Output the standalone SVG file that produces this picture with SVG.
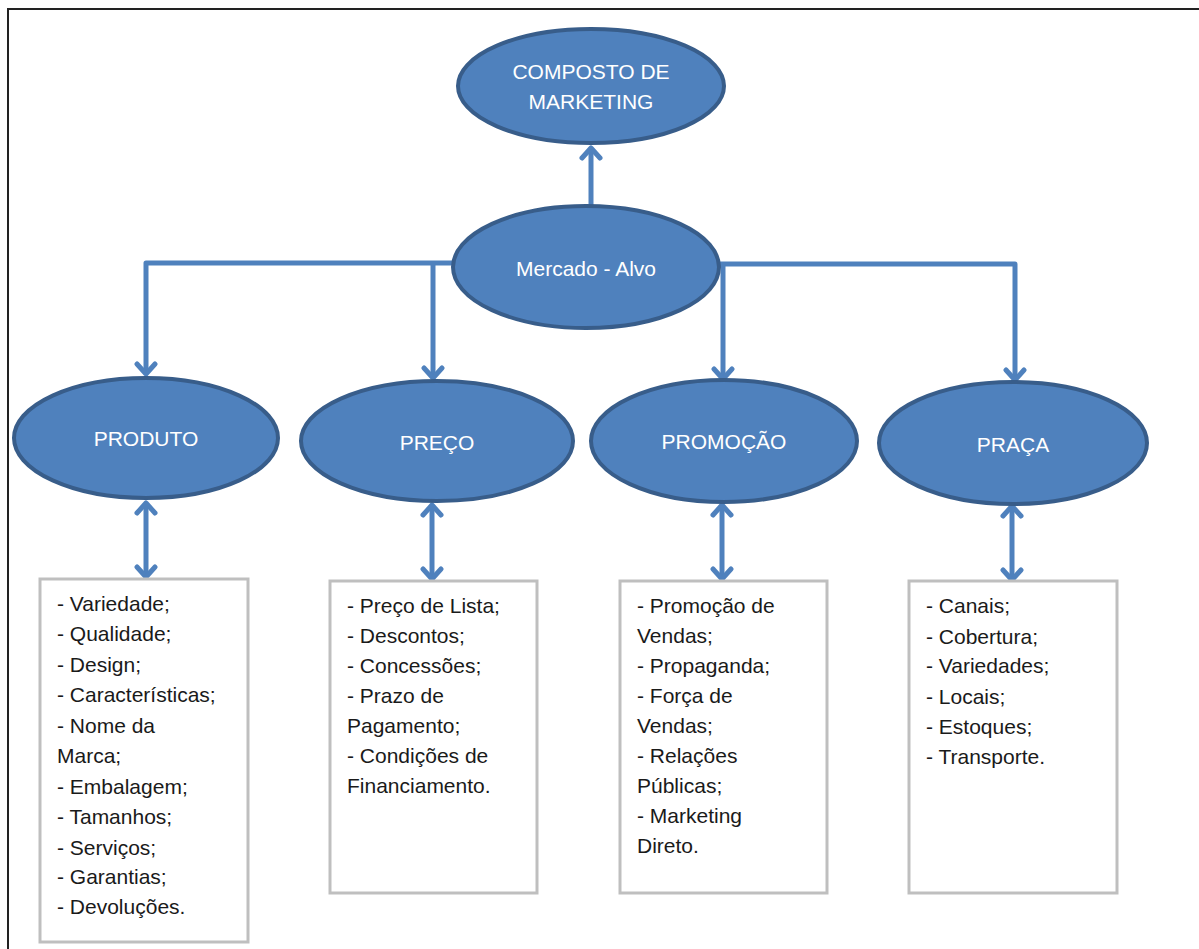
<svg xmlns="http://www.w3.org/2000/svg" width="1199" height="949" viewBox="0 0 1199 949">
<style>
.node ellipse{fill:#4F81BD;stroke:#385D8A;stroke-width:4}
.lbl{font-family:"Liberation Sans",Arial,sans-serif;font-size:21px;fill:#ffffff;text-anchor:middle}
.box rect{fill:#ffffff;stroke:#BFBFBF;stroke-width:3}
.txt{font-family:"Liberation Sans",Arial,sans-serif;font-size:21px;fill:#1a1a1a}
.con{fill:none;stroke:#4F81BD;stroke-width:5;stroke-linejoin:round}
</style>
<defs>
<marker id="arr" viewBox="-14 -12 18 24" markerWidth="18" markerHeight="24" refX="0" refY="0" markerUnits="userSpaceOnUse" orient="auto-start-reverse">
<path d="M-10,-9 L0,0 L-10,9" fill="none" stroke="#4F81BD" stroke-width="5" stroke-linecap="round" stroke-linejoin="round"/>
</marker>
</defs>
<rect width="1199" height="949" fill="#ffffff"/>
<path d="M8,949 V9 H1199" fill="none" stroke="#222" stroke-width="2"/>
<g id="connectors">
<path class="con" d="M591,206 V148" marker-end="url(#arr)"/>
<path class="con" d="M470,263 H146 V374" marker-end="url(#arr)"/>
<path class="con" d="M433,263 V378" marker-end="url(#arr)"/>
<path class="con" d="M700,264 H1015 V380" marker-end="url(#arr)"/>
<path class="con" d="M723,264 V379" marker-end="url(#arr)"/>
<path class="con" d="M146,503 V577" marker-start="url(#arr)" marker-end="url(#arr)"/>
<path class="con" d="M432,505 V579" marker-start="url(#arr)" marker-end="url(#arr)"/>
<path class="con" d="M722,505 V579" marker-start="url(#arr)" marker-end="url(#arr)"/>
<path class="con" d="M1012,506 V580" marker-start="url(#arr)" marker-end="url(#arr)"/>
</g>
<g id="composto" class="node">
<ellipse cx="591" cy="86" rx="133" ry="57"/>
<text class="lbl" x="591" y="79">COMPOSTO DE</text>
<text class="lbl" x="591" y="109">MARKETING</text>
</g>
<g id="mercado" class="node">
<ellipse cx="586" cy="267" rx="133" ry="61"/>
<text class="lbl" x="586" y="276">Mercado - Alvo</text>
</g>
<g id="produto" class="node">
<ellipse cx="146" cy="438" rx="132" ry="60"/>
<text class="lbl" x="146" y="446">PRODUTO</text>
</g>
<g id="preco" class="node">
<ellipse cx="437" cy="441" rx="136" ry="60"/>
<text class="lbl" x="437" y="450">PREÇO</text>
</g>
<g id="promocao" class="node">
<ellipse cx="724" cy="441" rx="133" ry="61"/>
<text class="lbl" x="724" y="449">PROMOÇÃO</text>
</g>
<g id="praca" class="node">
<ellipse cx="1013" cy="443" rx="134" ry="61"/>
<text class="lbl" x="1013" y="452">PRAÇA</text>
</g>
<g id="box-produto" class="box">
<rect x="40" y="579" width="208" height="363"/>
<text class="txt" x="57" y="611">- Variedade;</text>
<text class="txt" x="57" y="641">- Qualidade;</text>
<text class="txt" x="57" y="672">- Design;</text>
<text class="txt" x="57" y="702">- Características;</text>
<text class="txt" x="57" y="733">- Nome da</text>
<text class="txt" x="57" y="763">Marca;</text>
<text class="txt" x="57" y="794">- Embalagem;</text>
<text class="txt" x="57" y="824">- Tamanhos;</text>
<text class="txt" x="57" y="855">- Serviços;</text>
<text class="txt" x="57" y="884">- Garantias;</text>
<text class="txt" x="57" y="914">- Devoluções.</text>
</g>
<g id="box-preco" class="box">
<rect x="330" y="581" width="207" height="312"/>
<text class="txt" x="347" y="613">- Preço de Lista;</text>
<text class="txt" x="347" y="643">- Descontos;</text>
<text class="txt" x="347" y="673">- Concessões;</text>
<text class="txt" x="347" y="703">- Prazo de</text>
<text class="txt" x="347" y="733">Pagamento;</text>
<text class="txt" x="347" y="763">- Condições de</text>
<text class="txt" x="347" y="793">Financiamento.</text>
</g>
<g id="box-promocao" class="box">
<rect x="620" y="581" width="207" height="312"/>
<text class="txt" x="637" y="613">- Promoção de</text>
<text class="txt" x="637" y="643">Vendas;</text>
<text class="txt" x="637" y="673">- Propaganda;</text>
<text class="txt" x="637" y="703">- Força de</text>
<text class="txt" x="637" y="733">Vendas;</text>
<text class="txt" x="637" y="763">- Relações</text>
<text class="txt" x="637" y="793">Públicas;</text>
<text class="txt" x="637" y="823">- Marketing</text>
<text class="txt" x="637" y="853">Direto.</text>
</g>
<g id="box-praca" class="box">
<rect x="909" y="581" width="208" height="312"/>
<text class="txt" x="926" y="613">- Canais;</text>
<text class="txt" x="926" y="644">- Cobertura;</text>
<text class="txt" x="926" y="673">- Variedades;</text>
<text class="txt" x="926" y="704">- Locais;</text>
<text class="txt" x="926" y="734">- Estoques;</text>
<text class="txt" x="926" y="764">- Transporte.</text>
</g>
</svg>
